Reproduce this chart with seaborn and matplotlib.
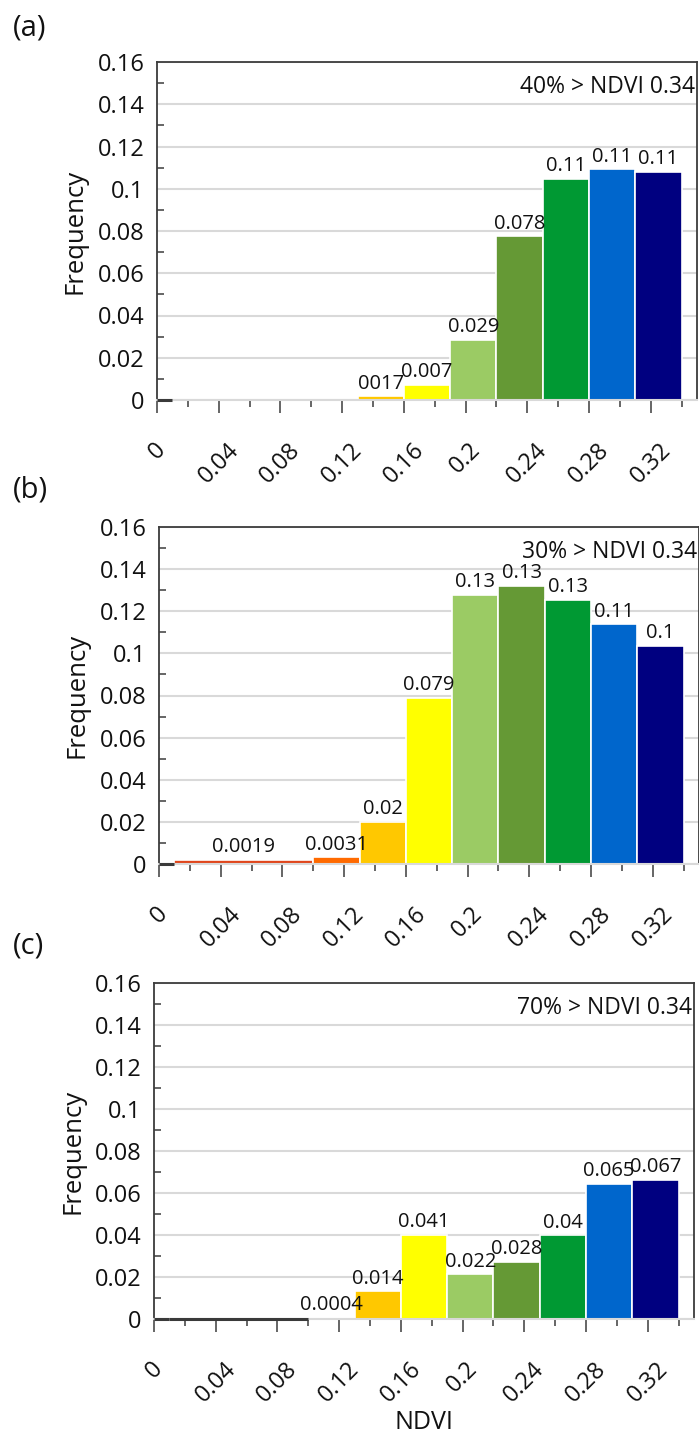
import numpy as np
import pandas as pd
import matplotlib
matplotlib.use("Agg")
import matplotlib.pyplot as plt
import seaborn as sns
from matplotlib.ticker import FixedLocator, FuncFormatter

# ---------------- data ----------------
bin_edges = [0.00, 0.01, 0.10, 0.13, 0.16, 0.19, 0.22, 0.25, 0.28, 0.31, 0.34]
bin_colors = ['#3a3a3a', '#E0461C', '#FF6A00', '#FFC800', '#FFFF00',
              '#9BCB64', '#659935', '#009933', '#0066CC', '#000080']

freq_a = [0.0, None, None, 0.0017, 0.0070, 0.0286, 0.0775, 0.1048, 0.1092, 0.1080]
labels_a = [None, None, None, '0017', '0.007', '0.029', '0.078', '0.11', '0.11', '0.11']

freq_b = [0.0, 0.0019, 0.0031, 0.0199, 0.0787, 0.1278, 0.1322, 0.1253, 0.1138, 0.1037]
labels_b = [None, '0.0019', '0.0031', '0.02', '0.079', '0.13', '0.13', '0.13', '0.11', '0.1']

freq_c = [0.0, 0.0, 0.0004, 0.0131, 0.0401, 0.0212, 0.0271, 0.0398, 0.0645, 0.0664]
labels_c = [None, None, '0.0004', '0.014', '0.041', '0.022', '0.028', '0.04', '0.065', '0.067']

panel_letters = ['(a)', '(b)', '(c)']
panel_notes = ['40% > NDVI 0.34', '30% > NDVI 0.34', '70% > NDVI 0.34']
x_major = [0, 0.04, 0.08, 0.12, 0.16, 0.2, 0.24, 0.28, 0.32]
x_minor = [0.02, 0.06, 0.10, 0.14, 0.18, 0.22, 0.26, 0.30, 0.34]
y_major = [0, 0.02, 0.04, 0.06, 0.08, 0.1, 0.12, 0.14, 0.16]
y_minor = [0.01, 0.03, 0.05, 0.07, 0.09, 0.11, 0.13, 0.15]

# ---------------- style ----------------
sns.set_theme(style="white")
plt.rcParams['font.family'] = ['Open Sans', 'DejaVu Sans']

W, H = 699, 1436
fig = plt.figure(figsize=(W / 100, H / 100), dpi=100)

# pixel boxes of plot areas: (left, top, bottom)
boxes = [(157, 62, 400), (159, 527, 864), (154, 983, 1319)]
letter_y = [28, 490, 946]
AX_W = 540

spine_col = '#3c3c3c'
grid_col = '#d9d9d9'
txt_col = '#111111'

panels = [(freq_a, labels_a), (freq_b, labels_b), (freq_c, labels_c)]
centers = [(bin_edges[i] + bin_edges[i + 1]) / 2 for i in range(len(bin_edges) - 1)]

for k, ((freqs, labs), (left, top, bottom)) in enumerate(zip(panels, boxes)):
    ax = fig.add_axes([left / W, 1 - bottom / H, AX_W / W, (bottom - top) / H])
    df = pd.DataFrame({'center': [c for c, f in zip(centers, freqs) if f is not None],
                       'freq': [f for f in freqs if f is not None]})
    sns.histplot(data=df, x='center', weights='freq', bins=bin_edges, stat='count',
                 ax=ax, alpha=1, linewidth=1, edgecolor='white')
    for i, p in enumerate(ax.patches):
        f = freqs[i]
        if f is None or f == 0:
            p.set_visible(False)
        else:
            p.set_facecolor(bin_colors[i])
            p.set_edgecolor('white')
            p.set_linewidth(1.2)
    # empty classes are drawn as a dark line on the baseline
    zero_lo = [bin_edges[i] for i, f in enumerate(freqs) if f == 0]
    zero_hi = [bin_edges[i + 1] for i, f in enumerate(freqs) if f == 0]
    ax.hlines([0] * len(zero_lo), zero_lo, zero_hi, colors=bin_colors[0],
              linewidth=2.2, zorder=3, clip_on=False)

    for i, lab in enumerate(labs):
        if lab is None:
            continue
        ax.annotate(lab, xy=(centers[i], freqs[i]), xytext=(0, 2),
                    textcoords='offset points', ha='center', va='bottom',
                    fontsize=14.5, color=txt_col)

    ax.set_xlim(0, 0.35)
    ax.set_ylim(0, 0.16)
    ax.set_axisbelow(True)
    ax.yaxis.grid(True, color=grid_col, linewidth=1.5)
    ax.xaxis.grid(False)

    ax.xaxis.set_major_locator(FixedLocator(x_major))
    ax.xaxis.set_minor_locator(FixedLocator(x_minor))
    ax.yaxis.set_major_locator(FixedLocator(y_major))
    ax.yaxis.set_minor_locator(FixedLocator(y_minor))
    fmt = FuncFormatter(lambda v, pos: ('%g' % round(v, 4)))
    ax.xaxis.set_major_formatter(fmt)
    ax.yaxis.set_major_formatter(fmt)

    ax.tick_params(axis='y', which='major', left=True, length=0, pad=9,
                   labelsize=17, labelcolor=txt_col)
    ax.tick_params(axis='y', which='minor', left=True, direction='in', length=5,
                   width=1.1, color=spine_col)
    ax.tick_params(axis='x', which='major', bottom=True, direction='out', length=9.5,
                   width=1.1, color=spine_col, labelsize=17, labelrotation=45,
                   pad=18, labelcolor=txt_col)
    ax.tick_params(axis='x', which='minor', bottom=True, direction='out', length=5,
                   width=1.1, color=spine_col)

    for side in ['left', 'top', 'right']:
        ax.spines[side].set_color(spine_col)
        ax.spines[side].set_linewidth(1.3)
    ax.spines['bottom'].set_color(grid_col)
    ax.spines['bottom'].set_linewidth(1.5)

    ax.set_ylabel('Frequency', fontsize=18.5, color=txt_col)
    ax.yaxis.set_label_coords(-69 / AX_W, 0.5)
    if k == 2:
        ax.set_xlabel('NDVI', fontsize=18, color=txt_col)
        ax.xaxis.set_label_coords(0.5, -0.27)
    else:
        ax.set_xlabel('')

    ax.text(0.996, 0.926, panel_notes[k], transform=ax.transAxes, ha='right',
            va='center', fontsize=16.5, color=txt_col)
    fig.text(13 / W, 1 - letter_y[k] / H, panel_letters[k], ha='left', va='center',
             fontsize=21, color=txt_col)

fig.savefig('out.png', dpi=100)
